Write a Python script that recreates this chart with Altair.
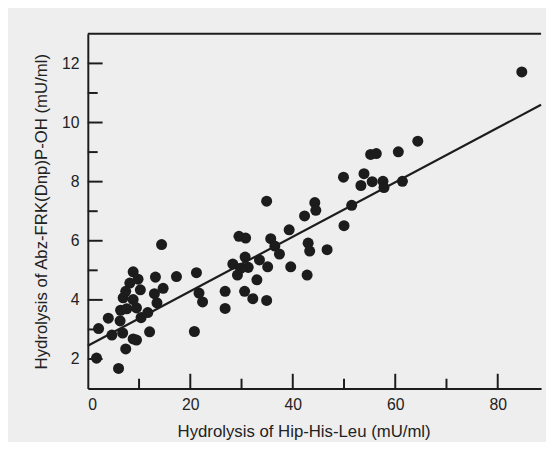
import altair as alt
import pandas as pd

# Scatter data
px = [1.7, 2.1, 4.0, 4.7, 6.0, 6.3, 6.8, 6.4, 6.9, 7.4, 7.4, 7.6, 8.2, 8.85, 8.85,
      8.85, 9.5, 9.5, 9.8, 10.25, 10.4, 11.7, 12.06, 13.0, 13.2, 13.5, 14.4, 14.7, 17.3,
      20.8, 21.2, 21.7, 22.4, 26.8, 26.8, 28.3, 29.2, 29.5, 30.8, 30.7, 31.3, 29.8, 30.6,
      32.2, 33.0, 33.5, 34.9, 35.1, 34.9, 35.7, 36.5, 37.4, 39.3, 39.6, 42.3, 42.8, 43.0,
      43.3, 44.3, 44.5, 46.7, 50.0, 49.9, 51.5, 53.3, 53.9, 55.2, 56.3, 55.5, 57.6, 57.8,
      60.6, 61.4, 64.4, 84.7]
py = [2.03, 3.03, 3.38, 2.81, 1.68, 3.29, 2.88, 3.65, 4.07, 4.29, 2.34, 3.70, 4.57, 4.95, 4.01,
      2.68, 2.64, 3.73, 4.70, 4.34, 3.40, 3.57, 2.92, 4.21, 4.77, 3.90, 5.87, 4.39, 4.79,
      2.93, 4.92, 4.23, 3.93, 4.29, 3.71, 5.21, 4.84, 6.15, 6.09, 5.45, 5.10, 5.07, 4.29,
      4.04, 4.68, 5.35, 3.98, 5.12, 7.34, 6.07, 5.82, 5.55, 6.37, 5.12, 6.84, 4.84, 5.92,
      5.65, 7.29, 7.03, 5.70, 6.51, 8.15, 7.20, 7.87, 8.27, 8.92, 8.95, 8.00, 8.01, 7.80,
      9.01, 8.01, 9.37, 11.71]

# Regression line end points
line_x = [0, 88.46]
line_y = [2.45, 10.60]

# Axis ticks
x_major = [20, 40, 60, 80]
x_minor = [10, 30, 50, 70]
y_major = [2, 4, 6, 8, 10, 12]
y_minor = [3, 5, 7, 9, 11]
x_labels = [0, 20, 40, 60, 80]
y_labels = [2, 4, 6, 8, 10, 12]

W, H = 460, 360
INK = "#1c1c1c"
TXT = "#222222"

xs = alt.Scale(domain=[0, 88.46], nice=False, zero=False)
ys = alt.Scale(domain=[1, 13], nice=False, zero=False)

xaxis = alt.Axis(values=x_labels, ticks=False, grid=False,
                 domainColor=INK, domainWidth=2,
                 labelFontSize=16, labelColor=TXT, labelPadding=8, labelFont="Liberation Sans",
                 title="Hydrolysis of Hip-His-Leu (mU/ml)", titleFontSize=17, titleFontWeight="normal",
                 titleColor=TXT, titleFont="Liberation Sans", titleX=219, titleY=49,
                 titleAlign="center", titleBaseline="alphabetic")
yaxis = alt.Axis(values=y_labels, ticks=False, grid=False,
                 domainColor=INK, domainWidth=2,
                 labelFontSize=16, labelColor=TXT, labelPadding=9, labelFont="Liberation Sans",
                 title="Hydrolysis of Abz-FRK(Dnp)P-OH (mU/ml)", titleFontSize=17,
                 titleFontWeight="normal", titleColor=TXT, titleFont="Liberation Sans",
                 titleX=-42, titleY=H / 2, titleAlign="center", titleBaseline="alphabetic",
                 titleAngle=270)

pts = pd.DataFrame({"x": px, "y": py})
ln = pd.DataFrame({"x": line_x, "y": line_y})

XE = alt.X("x:Q", scale=xs, axis=xaxis)
YE = alt.Y("y:Q", scale=ys, axis=yaxis)
XS = alt.X("x:Q", scale=xs)
YS = alt.Y("y:Q", scale=ys)

points = alt.Chart(pts).mark_circle(size=125, color=INK, opacity=1).encode(x=XE, y=YE)
reg = alt.Chart(ln).mark_line(color=INK, strokeWidth=2.2).encode(x=XS, y=YS)

ytmaj = alt.Chart(pd.DataFrame({"y": y_major})).mark_rule(color=INK, strokeWidth=2).encode(
    y=YS, x=alt.value(0), x2=alt.value(15))
ytmin = alt.Chart(pd.DataFrame({"y": y_minor})).mark_rule(color=INK, strokeWidth=2).encode(
    y=YS, x=alt.value(0), x2=alt.value(10))
xtmaj = alt.Chart(pd.DataFrame({"x": x_major})).mark_rule(color=INK, strokeWidth=2).encode(
    x=XS, y=alt.value(H), y2=alt.value(H - 15))
xtmin = alt.Chart(pd.DataFrame({"x": x_minor})).mark_rule(color=INK, strokeWidth=2).encode(
    x=XS, y=alt.value(H), y2=alt.value(H - 10))
top = alt.Chart(pd.DataFrame({"y": [13]})).mark_rule(color=INK, strokeWidth=2).encode(
    y=YS, x=alt.value(0), x2=alt.value(W))

chart = alt.layer(points, reg, ytmaj, ytmin, xtmaj, xtmin, top).properties(
    width=W, height=H,
    autosize=alt.AutoSizeParams(type="none"),
    padding={"left": 81, "top": 23, "right": 5, "bottom": 51},
    background="#eeeeee",
).configure_view(stroke=None)

chart.save("out.html", embed_options={"renderer": "svg", "actions": False})
